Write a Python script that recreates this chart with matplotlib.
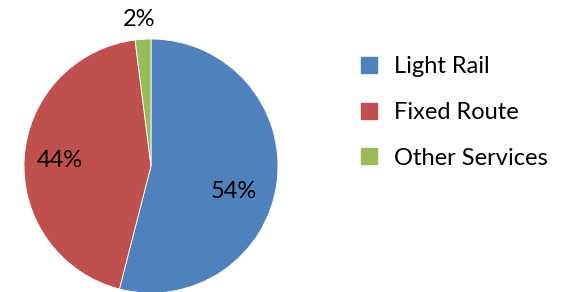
import numpy as np
import matplotlib.pyplot as plt
from matplotlib.lines import Line2D

# Data
categories = ['Light Rail', 'Fixed Route', 'Other Services']
shares = [54, 44, 2]
colors = ['#4F81BD', '#C0504D', '#9BBB59']

# label placement (fraction of radius, angle tweak in degrees)
label_dist = [0.68, 0.72, 1.16]
label_shift = [-10, 0, 1]

plt.rcParams['font.family'] = ['Lato', 'DejaVu Sans']

W, H = 565, 292
fig = plt.figure(figsize=(W / 100, H / 100), dpi=100)
ax = fig.add_axes([0, 0, 1, 1])

cx, cy, R = 151, H - 166, 127
wedges, _ = ax.pie(shares, colors=colors, startangle=90, counterclock=False,
                   center=(cx, cy), radius=R, frame=True,
                   wedgeprops=dict(edgecolor='white', linewidth=0.6))
ax.set_xlim(0, W)
ax.set_ylim(0, H)
ax.set_aspect('equal')
ax.axis('off')

for w, s, d, sh in zip(wedges, shares, label_dist, label_shift):
    ang = np.deg2rad((w.theta1 + w.theta2) / 2 + sh)
    ax.text(cx + d * R * np.cos(ang), cy + d * R * np.sin(ang), f'{s}%',
            ha='center', va='center', fontsize=17, color='black')

handles = [Line2D([], [], marker='s', linestyle='none', markersize=11,
                  markerfacecolor=c, markeredgecolor=c) for c in colors]
ax.legend(handles, categories, loc='upper left', bbox_to_anchor=(345 / W, 1 - 47 / H),
          frameon=False, fontsize=17, handletextpad=0.47, labelspacing=1.04,
          borderaxespad=0, handlelength=1.2)

fig.savefig('out.png', dpi=100)
